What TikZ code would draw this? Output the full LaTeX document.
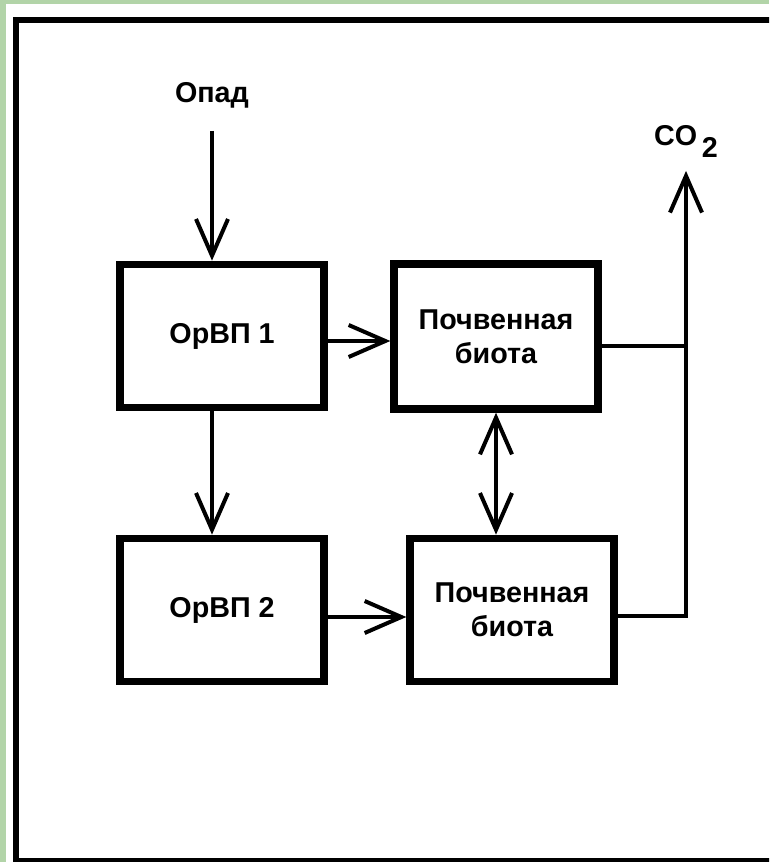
\documentclass[tikz,border=0pt]{standalone}
\usepackage{fontspec}
\setmainfont{Liberation Sans}
\usetikzlibrary{arrows.meta,positioning,calc}
\definecolor{bggreen}{RGB}{178,212,168}

\begin{document}
\begin{tikzpicture}[x=0.3mm,y=-0.3mm,>={Straight Barb[length=11mm,width=9.6mm]},
   box/.style={draw,line width=2.2mm,minimum width=61.2mm,minimum height=43mm,align=center,
     font=\fontsize{24.5}{29}\selectfont\bfseries},
   lbl/.style={inner sep=0pt,anchor=base,font=\fontsize{24.5}{29}\selectfont\bfseries},
   wire/.style={line width=1.2mm}]
  \useasboundingbox (0,0) rectangle (769,862);
  \clip (0,0) rectangle (769,862);
  % background and frame
  \fill[bggreen] (0,0) rectangle (769,862);
  \fill[white] (6,4) rectangle (800,900);
  \draw[line width=1.8mm] (16,20) rectangle (800,861);

  \node[box] (orvp1) at (222,336) {ОрВП 1};
  \node[box,minimum height=43.5mm] (bio1) at (496,336.5) {Почвенная\\биота};
  \node[box] (orvp2) at (222,610) {ОрВП 2};
  \node[box] (bio2) at (512,610) {Почвенная\\биота};
  \node[lbl] (opad) at (212,103) {Опад};
  \node[lbl] (co2) at (686,146) {CO\,\raisebox{-3.4mm}{2}};

  \draw[wire,->,shorten <=6.6mm] (opad.south) -- (opad.south |- orvp1.north);
  \draw[wire,->] (opad.south |- orvp1.south) -- (opad.south |- orvp2.north);
  \draw[wire,->] ([yshift=-1.5mm]orvp1.east) -- ([yshift=-1.5mm]orvp1.east -| bio1.west);
  \draw[wire,->] ([yshift=-2.1mm]orvp2.east) -- ([yshift=-2.1mm]orvp2.east -| bio2.west);
  \draw[wire,<->] (bio1.south) -- (bio1.south |- bio2.north);
  \draw[wire] ([yshift=-2.85mm]bio1.east) -- ([yshift=-2.85mm]bio1.east -| co2.south);
  \draw[wire,->,shorten >=4.0mm] ([yshift=-1.8mm]bio2.east) -| (co2.south);
\end{tikzpicture}
\end{document}
